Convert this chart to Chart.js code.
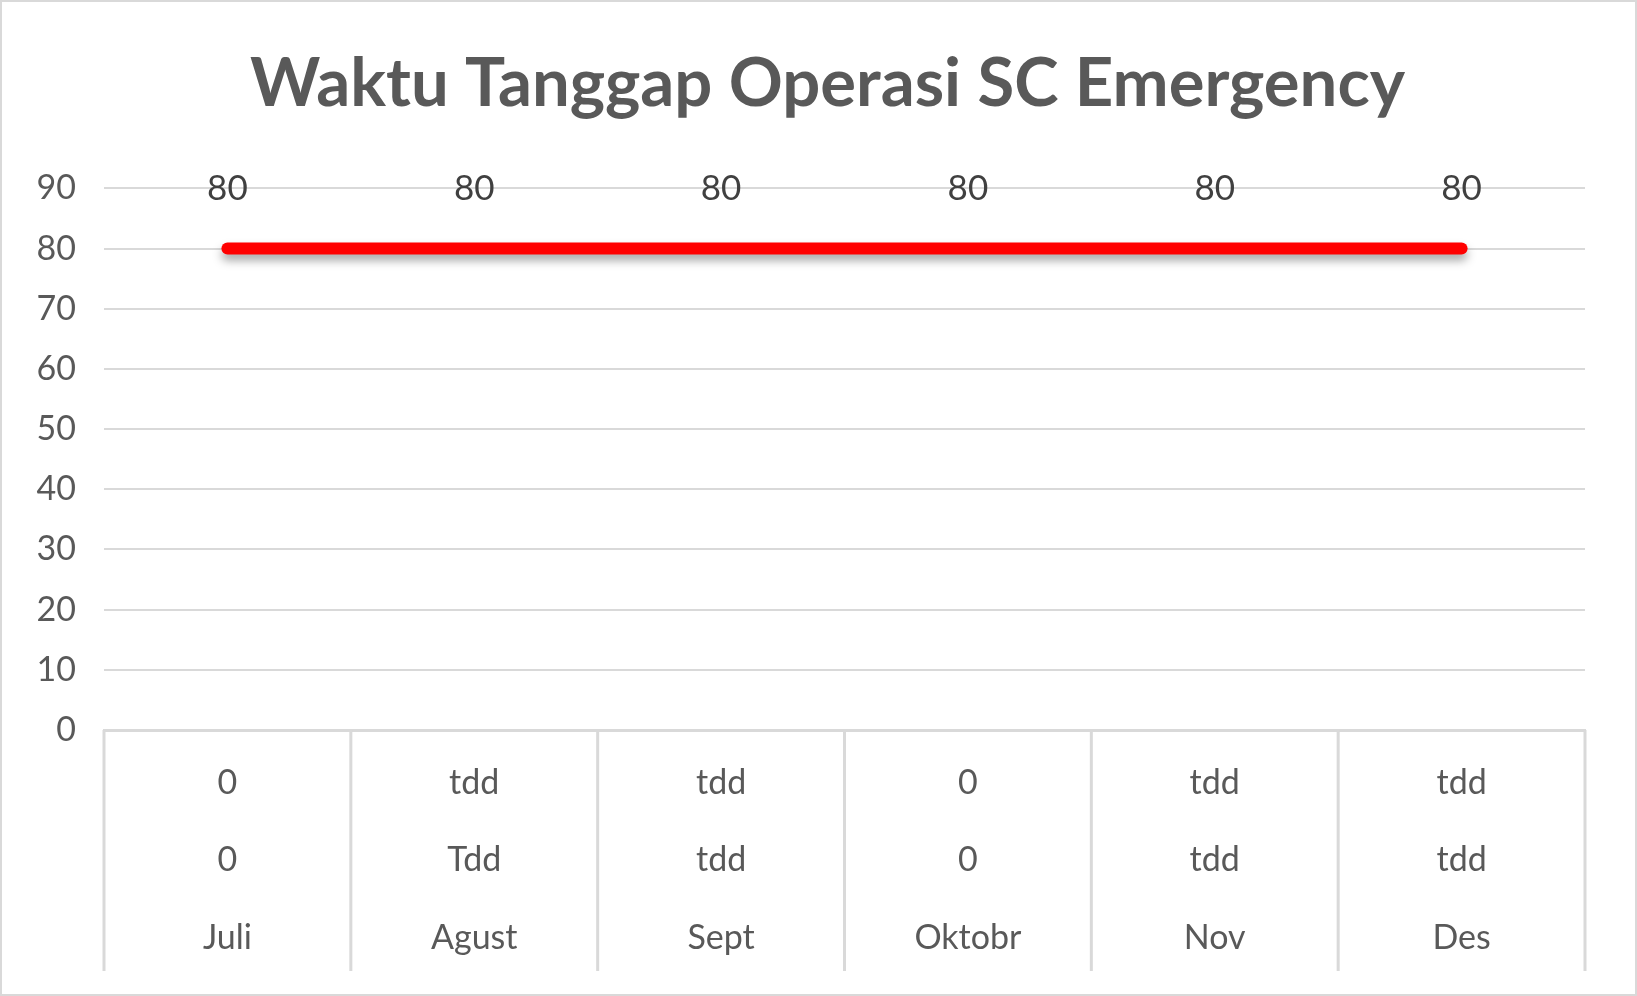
<!DOCTYPE html>
<html>
<head>
<meta charset="utf-8">
<script src="https://cdn.jsdelivr.net/npm/chart.js@4"></script>
<style>
  html, body { margin: 0; padding: 0; background: #fff; }
  #wrap { position: relative; width: 1637px; height: 996px; box-sizing: border-box; border: 2px solid #d9d9d9; }
</style>
</head>
<body>
<div id="wrap"><canvas id="chartSC"></canvas></div>
<script>
const months = ["Juli", "Agust", "Sept", "Oktobr", "Nov", "Des"];
const rowOne = ["0", "tdd", "tdd", "0", "tdd", "tdd"];
const rowTwo = ["0", "Tdd", "tdd", "0", "tdd", "tdd"];
const waktuTanggap = [80, 80, 80, 80, 80, 80];
const yTicks = [0, 10, 20, 30, 40, 50, 60, 70, 80, 90];

const GREY_TEXT = "#595959";
const GRID = "#d9d9d9";

// each category label is one column of the data table: row 1, row 2, month
const tableLabels = months.map((m, i) => [rowOne[i], rowTwo[i], m]);

// soft shadow under the red line
const lineShadow = {
  id: "lineShadow",
  beforeDatasetDraw(chart) {
    const ctx = chart.ctx;
    ctx.save();
    ctx.shadowColor = "rgba(0, 0, 0, 0.35)";
    ctx.shadowBlur = 10;
    ctx.shadowOffsetY = 6;
  },
  afterDatasetDraw(chart) {
    chart.ctx.restore();
  },
};

// value labels above the points
const valueLabels = {
  id: "valueLabels",
  afterDatasetsDraw(chart) {
    const ctx = chart.ctx;
    const meta = chart.getDatasetMeta(0);
    ctx.save();
    ctx.font = "35px Lato";
    ctx.fillStyle = "#404040";
    ctx.textAlign = "center";
    ctx.textBaseline = "middle";
    meta.data.forEach((pt, i) => {
      ctx.fillText(String(waktuTanggap[i]), pt.x, pt.y - 60);
    });
    ctx.restore();
  },
};

// vertical column lines of the data table under the x axis
const tableLines = {
  id: "tableLines",
  afterDraw(chart) {
    const xs = chart.scales.x;
    const ctx = chart.ctx;
    const step = xs.getPixelForValue(1) - xs.getPixelForValue(0);
    ctx.save();
    ctx.strokeStyle = GRID;
    ctx.lineWidth = 3;
    ctx.beginPath();
    for (let i = 0; i <= months.length; i++) {
      const x = xs.getPixelForValue(i) - step / 2;
      ctx.moveTo(x, xs.top);
      ctx.lineTo(x, xs.top + 241);
    }
    ctx.stroke();
    ctx.restore();
  },
};

const config = {
  type: "line",
  data: {
    labels: tableLabels,
    datasets: [
      {
        label: "Waktu Tanggap",
        data: waktuTanggap,
        borderColor: "#ff0000",
        backgroundColor: "#ff0000",
        borderWidth: 12,
        borderCapStyle: "round",
        pointRadius: 0,
        pointHoverRadius: 0,
        tension: 0,
      },
    ],
  },
  options: {
    responsive: true,
    maintainAspectRatio: false,
    animation: false,
    layout: {
      padding: { left: 30, right: 12, top: 0, bottom: 19 },
    },
    plugins: {
      legend: { display: false },
      tooltip: { enabled: false },
      title: {
        display: true,
        text: "Waktu Tanggap Operasi SC Emergency",
        color: GREY_TEXT,
        font: { family: "Lato", size: 67, weight: "bold", lineHeight: 1.2 },
        padding: { top: 42, bottom: 64 },
      },
    },
    scales: {
      x: {
        offset: true,
        border: { display: true, color: GRID, width: 3 },
        grid: { offset: true, drawOnChartArea: false, drawTicks: false },
        ticks: {
          color: GREY_TEXT,
          font: { family: "Lato", size: 34, lineHeight: 2.28 },
          padding: 14,
          maxRotation: 0,
          autoSkip: false,
        },
        afterFit: (s) => {
          s.height = 245;
        },
      },
      y: {
        min: 0,
        max: 90,
        afterBuildTicks: (scale) => {
          scale.ticks = yTicks.map((v) => ({ value: v }));
        },
        border: { display: false },
        grid: { color: GRID, lineWidth: 2, drawTicks: false },
        ticks: {
          color: GREY_TEXT,
          font: { family: "Lato", size: 34 },
          padding: 28,
        },
        afterFit: (s) => {
          s.width = 72;
        },
      },
      // empty right axis, only keeps the right margin so the title sits like the original
      yRight: {
        position: "right",
        min: 0,
        max: 90,
        border: { display: false },
        grid: { display: false },
        ticks: { display: false },
        afterFit: (s) => {
          s.width = 38;
        },
      },
    },
  },
  plugins: [lineShadow, valueLabels, tableLines],
};

const chartSC = new Chart(document.getElementById("chartSC").getContext("2d"), config);
</script>
</body>
</html>
